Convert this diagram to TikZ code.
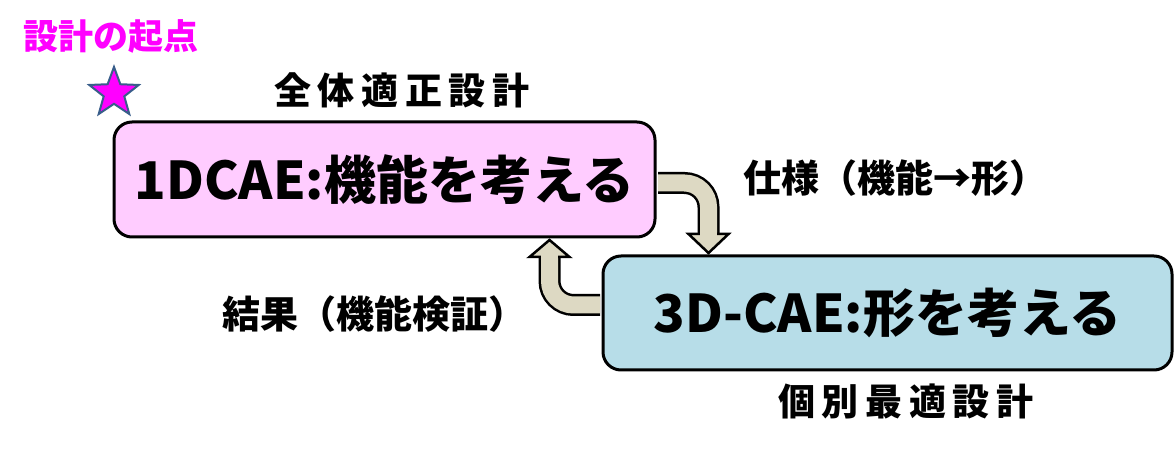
\documentclass[tikz,border=0pt]{standalone}
\usepackage{fontspec}
\setmainfont{Noto Sans CJK JP}
\usetikzlibrary{shapes.geometric}
\definecolor{funcpink}{HTML}{FFCCFF}
\definecolor{formblue}{HTML}{B7DDE8}
\definecolor{shafttan}{HTML}{DDD9C3}
\definecolor{starline}{HTML}{385D8A}
\definecolor{startmag}{HTML}{FF00FF}

\begin{document}
\begin{tikzpicture}[x=1pt,y=1pt,
            font=\bfseries,
            cae/.style={draw=black,line width=3pt,rounded corners=18pt,inner sep=0pt,
                font=\fontsize{52}{60}\selectfont\bfseries},
            shaft/.style={line width=2.5pt,double=shafttan,double distance=17pt,rounded corners=24pt},
            patch/.style={draw=shafttan,line width=17pt},
            head/.style={draw=black,line width=2.5pt,fill=shafttan,line join=miter},
            lbl/.style={font=\fontsize{38}{44}\selectfont\bfseries},
            tag/.style={font=\fontsize{37}{42}\selectfont\bfseries\addfontfeatures{LetterSpace=18}},
        ]
        \useasboundingbox (0,0) rectangle (1175,455);
        % the two design stages
        \node[cae,fill=funcpink,minimum width=541,minimum height=115] (cae1) at (384.5,275.5) {1DCAE:機能を考える};
        \node[cae,fill=formblue,minimum width=569,minimum height=114] (cae3) at (887.5,142) {3D-CAE:形を考える};
        % starting point
        \node[star,star points=5,star point ratio=2.4,minimum size=52,inner sep=0pt,
            fill=startmag,draw=starline,line width=2pt] (start) at (114,362) {};
        \node[font=\fontsize{35}{40}\selectfont\bfseries,text=startmag] (startlbl) at (111,419) {設計の起点};
        \node[tag] (global) at (402,365) {全体適正設計};
        \node[tag] (local) at (906,54) {個別最適設計};
        % spec: 1D -> 3D
        \coordinate (tipA) at ([xshift=107,yshift=1.5]cae3.north west);
        \draw[shaft] ([xshift=1.5,yshift=-3.5]cae1.east) -| ([yshift=19]tipA);
        \draw[head] (tipA) -- ++(-20,19) -- ++(40,0) -- cycle;
        \draw[patch] ([yshift=23]tipA) -- ([yshift=17]tipA);
        \node[lbl] (spec) at (895,277) {仕様（機能→形）};
        % result: 3D -> 1D
        \coordinate (tipB) at ([xshift=-107,yshift=-1.5]cae1.south east);
        \draw[shaft] ([xshift=-1.5,yshift=8]cae3.west) -| ([yshift=-17]tipB);
        \draw[head] (tipB) -- ++(-20,-17) -- ++(40,0) -- cycle;
        \draw[patch] ([yshift=-21]tipB) -- ([yshift=-15]tipB);
        \node[lbl] (result) at (374,141) {結果（機能検証）};
    \end{tikzpicture}
\end{document}
